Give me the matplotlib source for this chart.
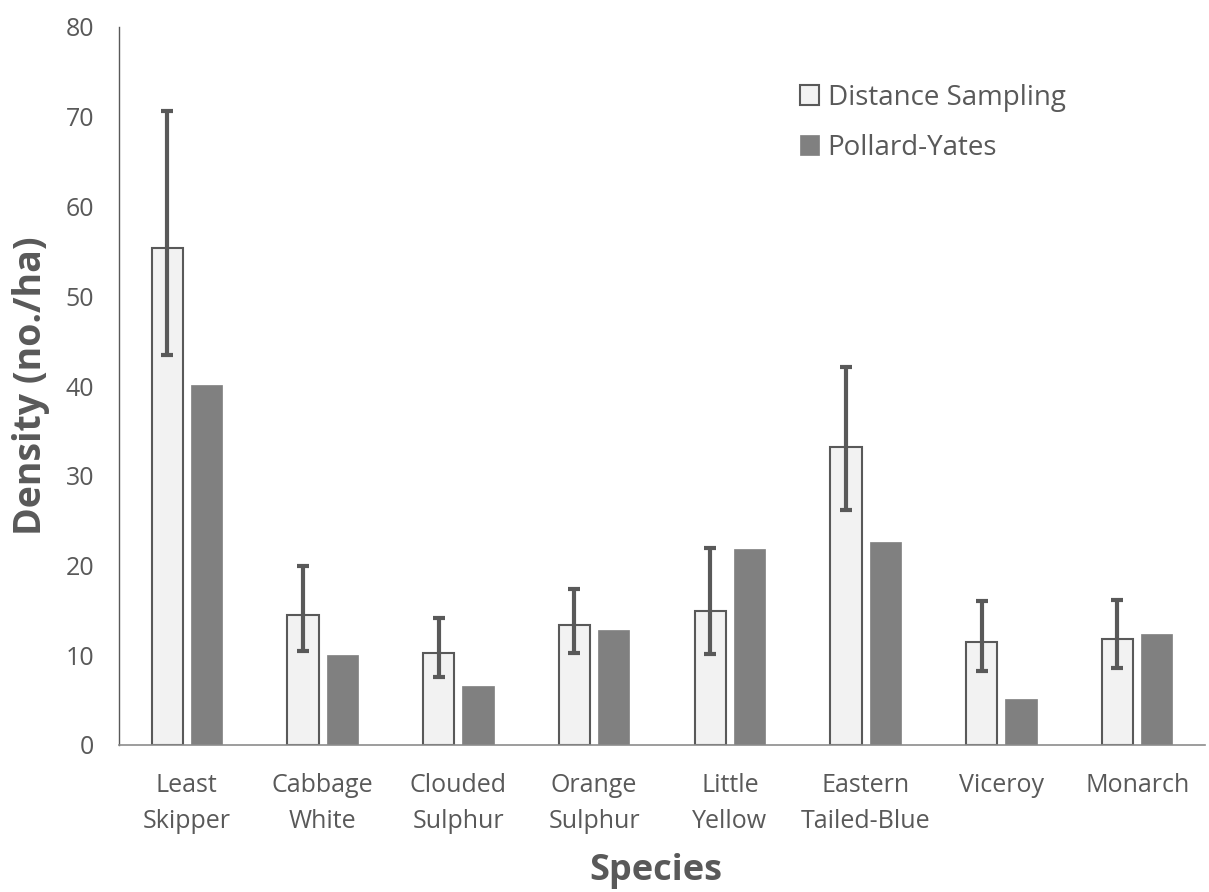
import numpy as np
import matplotlib.pyplot as plt

# ---- data ----
species = ["Least\nSkipper", "Cabbage\nWhite", "Clouded\nSulphur", "Orange\nSulphur",
           "Little\nYellow", "Eastern\nTailed-Blue", "Viceroy", "Monarch"]
distance = [55.4, 14.5, 10.3, 13.4, 14.9, 33.2, 11.5, 11.8]
dist_low = [43.5, 10.5, 7.6, 10.3, 10.1, 26.2, 8.3, 8.6]
dist_high = [70.6, 20.0, 14.1, 17.4, 21.9, 42.1, 16.0, 16.2]
pollard = [40.1, 10.0, 6.6, 12.8, 21.8, 22.6, 5.1, 12.4]

TXT = "#595959"
plt.rcParams["font.family"] = ["Open Sans", "DejaVu Sans"]

fig = plt.figure(figsize=(12.09, 8.92), dpi=100)
ax = fig.add_axes([119 / 1209, 147 / 892, 1086 / 1209, 718 / 892])

x = np.arange(len(species))
w = 0.23
off = 0.145
err = [np.array(distance) - np.array(dist_low), np.array(dist_high) - np.array(distance)]

ax.bar(x - off, distance, w, color="#f2f2f2", edgecolor="#595959", linewidth=1.5,
       label="Distance Sampling", zorder=2)
ax.bar(x + off, pollard, w, color="#808080", edgecolor="#808080", linewidth=0.5,
       label="Pollard-Yates", zorder=2)
ax.errorbar(x - off, distance, yerr=err, fmt="none", ecolor="#595959",
            elinewidth=3, capsize=4.5, capthick=3, zorder=3)

ax.set_xlim(-0.5, len(species) - 0.5)
ax.set_ylim(0, 80)
ax.set_yticks(range(0, 81, 10))
ax.set_xticks(x)
ax.set_xticklabels(species, fontsize=18, color=TXT, linespacing=1.57)
ax.tick_params(axis="y", length=0, labelsize=18, labelcolor=TXT, pad=18)
ax.tick_params(axis="x", length=0, pad=20)

for s in ["top", "right"]:
    ax.spines[s].set_visible(False)
ax.spines["left"].set_color("#595959")
ax.spines["bottom"].set_color("#8c8c8c")
ax.spines["left"].set_linewidth(1)
ax.spines["bottom"].set_linewidth(1.2)

ax.set_ylabel("Density (no./ha)", fontsize=27, fontweight="bold", color=TXT)
ax.yaxis.set_label_coords(-0.0635, 0.5)
ax.set_xlabel("Species", fontsize=26, fontweight="bold", color=TXT)
ax.xaxis.set_label_coords(0.494, -0.151)

leg = ax.legend(loc="upper left", bbox_to_anchor=(0.604, 0.956), frameon=False,
                fontsize=20, labelcolor=TXT, handlelength=0.7, handleheight=0.7,
                handletextpad=0.3, labelspacing=0.8)

fig.savefig("out.png", dpi=100)
